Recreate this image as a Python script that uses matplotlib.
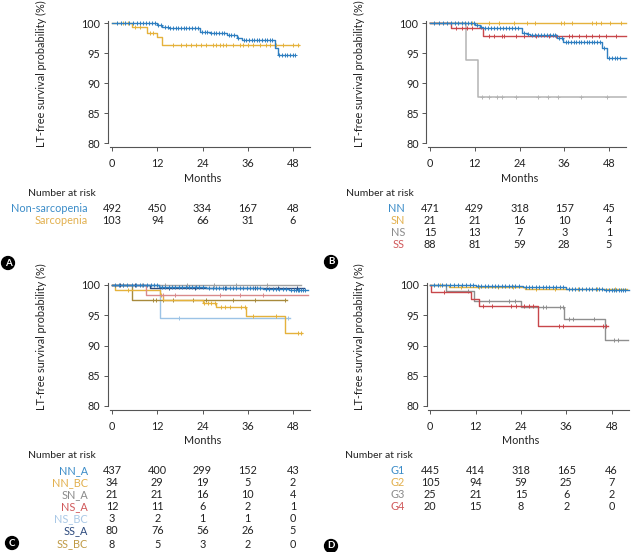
import numpy as np
import matplotlib
matplotlib.use('Agg')
import matplotlib.pyplot as plt
from matplotlib.transforms import blended_transform_factory

plt.rcParams['font.family'] = ['Lato', 'DejaVu Sans']

W, H = 632, 552

BLUE = '#2f7fc1'
ORANGE = '#e5b23c'
GRAY = '#a0a0a0'
RED = '#c8474b'
LIGHTBLUE = '#9cc3e6'
DARKBLUE = '#2d4a7d'
OLIVE = '#a88a3c'

months = [0, 12, 24, 36, 48]

# ---- panel A
a_non_t = [0, 11.9, 13.2, 14.9, 23.3, 26.0, 30.4, 33.1, 34.5, 43.2, 44.0]
a_non_s = [100, 99.7, 99.3, 99.1, 98.55, 98.3, 98.0, 97.5, 97.1, 95.8, 94.6]
a_non_end = 48.4
a_non_cens = [1.3, 2.4, 3.5, 4.6, 5.6, 6.5, 7.4, 8.3, 9.1, 9.9, 10.7, 11.4, 12.2, 13.0,
              14.1, 14.8, 15.5, 16.2, 16.9, 17.6, 18.3, 19.0, 19.7, 20.5, 21.3, 22.1,
              22.8, 23.9, 24.6, 25.3, 26.3, 27.0, 27.7, 28.4, 29.1, 29.8, 30.9, 31.6,
              32.4, 33.5, 34.9, 35.6, 36.3, 37.0, 37.7, 38.4, 39.1, 39.8, 40.5, 41.2,
              41.9, 42.4, 44.4, 45.1, 45.8, 46.5, 47.2, 47.9, 48.4]
a_sar_t = [0, 5.3, 9.2, 11.9, 13.2]
a_sar_s = [100, 99.3, 98.3, 97.7, 96.3]
a_sar_end = 49.5
a_sar_cens = [2.9, 4.2, 6.0, 7.3, 10.0, 10.9, 16.2, 18.4, 19.7, 21.0, 22.4, 23.7, 25.0,
              26.8, 27.7, 28.6, 29.4, 30.3, 32.1, 33.9, 34.7, 36.1, 37.4, 39.2, 40.9,
              41.8, 43.6, 45.4, 48.0, 49.3]
a_labels = ['Non-sarcopenia', 'Sarcopenia']
a_risk = [[492, 450, 334, 167, 48], [103, 94, 66, 31, 6]]

# ---- panel B
b_nn_t = [0, 12.1, 13.4, 14.2, 24.7, 26.0, 26.8, 34.0, 35.7, 46.1, 47.5]
b_nn_s = [100, 99.7, 99.3, 99.1, 98.4, 98.15, 98.0, 97.5, 96.9, 95.8, 94.2]
b_nn_end = 52.5
b_nn_cens = [1.2, 2.3, 3.4, 4.5, 5.6, 6.6, 7.6, 8.5, 9.4, 10.3, 11.1, 11.8, 12.7, 13.8,
             14.8, 15.6, 16.4, 17.2, 18.0, 18.8, 19.6, 20.4, 21.2, 22.0, 22.8, 23.6,
             25.3, 26.4, 27.4, 28.2, 29.0, 29.8, 30.6, 31.4, 32.2, 33.0, 33.6, 34.6,
             35.3, 36.4, 37.1, 37.8, 38.5, 39.2, 39.9, 40.6, 41.3, 42.0, 42.7, 43.4,
             44.1, 44.8, 45.5, 46.7, 48.1, 48.8, 49.5, 50.2, 51.0]
b_sn_t = [0]
b_sn_s = [100]
b_sn_end = 52.5
b_sn_cens = [11.3, 15.8, 18.5, 22.5, 26.1, 28.2, 35.0, 35.9, 38.2, 43.5, 44.4, 45.8, 48.4, 51.1]
b_ns_t = [0, 9.6, 12.9]
b_ns_s = [100, 93.9, 87.7]
b_ns_end = 52.5
b_ns_cens = [14.0, 15.8, 18.1, 19.4, 23.0, 29.0, 31.7, 34.3, 40.4, 47.5]
b_ss_t = [0, 5.7, 14.2]
b_ss_s = [100, 99.2, 97.9]
b_ss_end = 52.5
b_ss_cens = [6.9, 8.7, 10.0, 11.3, 15.8, 17.2, 19.4, 19.8, 23.0, 25.2, 28.3, 31.9, 33.7,
             37.3, 38.2, 39.9, 41.7, 43.5, 45.3, 47.1, 49.8]
b_labels = ['NN', 'SN', 'NS', 'SS']
b_risk = [[471, 429, 318, 157, 45], [21, 21, 16, 10, 4], [15, 13, 7, 3, 1], [88, 81, 59, 28, 5]]

# ---- panel C
c_nna_t = [0, 12.5, 25.0, 40.0, 47.0]
c_nna_s = [100, 99.75, 99.55, 99.35, 99.1]
c_nna_end = 52.0
c_nna_cens = [0.8, 1.9, 3.0, 4.1, 5.2, 6.3, 7.3, 8.3, 9.3, 10.3, 11.2, 12.0, 13.2, 14.1,
              15.0, 15.9, 16.8, 17.7, 18.6, 19.5, 20.4, 21.3, 22.2, 23.1, 24.0, 25.8,
              26.7, 27.6, 28.5, 29.4, 30.3, 31.2, 32.1, 33.0, 33.9, 34.8, 35.7, 36.6,
              37.5, 38.4, 39.3, 40.8, 41.7, 42.6, 43.5, 44.4, 45.3, 46.2, 47.6, 48.2,
              48.7, 49.2, 49.7, 50.2, 50.7, 51.2]
c_nnbc_t = [0, 0.8, 12.7, 13.6, 24.2, 27.6, 35.6, 45.8]
c_nnbc_s = [100, 99.1, 98.3, 97.6, 97.1, 96.3, 94.8, 92.1]
c_nnbc_end = 50.5
c_nnbc_cens = [4.2, 13.1, 24.5, 25.4, 26.3, 27.2, 29.0, 29.9, 31.2, 34.3, 35.2, 37.4,
               43.6, 49.3, 50.2]
c_sna_t = [0]
c_sna_s = [100]
c_sna_end = 50.0
c_sna_cens = [3.0, 8.0, 14.0, 20.0, 27.0, 33.0, 41.0]
c_nsa_t = [0, 9.1]
c_nsa_s = [100, 98.4]
c_nsa_end = 52.0
c_nsa_cens = [13.5, 16.6, 28.6, 33.9, 40.1]
c_nsbc_t = [0, 12.6]
c_nsbc_s = [100, 94.5]
c_nsbc_end = 47.1
c_nsbc_cens = [17.9, 46.7]
c_ssa_t = [0, 10.0]
c_ssa_s = [100, 99.5]
c_ssa_end = 51.0
c_ssa_cens = [2.0, 6.0, 15.0, 22.0, 30.0, 38.0, 44.0, 49.0]
c_ssbc_t = [0, 5.4]
c_ssbc_s = [100, 97.6]
c_ssbc_end = 46.5
c_ssbc_cens = [10.9, 11.8, 13.5, 16.2, 21.5, 25.0, 32.1, 37.8, 45.8]
c_labels = ['NN_A', 'NN_BC', 'SN_A', 'NS_A', 'NS_BC', 'SS_A', 'SS_BC']
c_risk = [[437, 400, 299, 152, 43], [34, 29, 19, 5, 2], [21, 21, 16, 10, 4],
          [12, 11, 6, 2, 1], [3, 2, 1, 1, 0], [80, 76, 56, 26, 5], [8, 5, 3, 2, 0]]

# ---- panel D
d_g1_t = [0, 12.0, 24.5, 36.0, 46.0]
d_g1_s = [100, 99.8, 99.6, 99.4, 99.15]
d_g1_end = 52.5
d_g1_cens = [0.9, 2.0, 3.1, 4.2, 5.3, 6.4, 7.4, 8.4, 9.4, 10.4, 11.3, 12.6, 13.5, 14.4,
             15.3, 16.2, 17.1, 18.0, 18.9, 19.8, 20.7, 21.6, 22.5, 23.4, 25.2, 26.1,
             27.0, 27.9, 28.8, 29.7, 30.6, 31.5, 32.4, 33.3, 34.2, 35.1, 36.6, 37.5,
             38.4, 39.3, 40.2, 41.1, 42.0, 42.9, 43.8, 44.7, 45.5, 46.6, 47.4, 48.0,
             48.6, 49.2, 49.8, 50.4, 51.0, 51.6]
d_g2_t = [0, 5.0, 25.0]
d_g2_s = [100, 99.6, 99.3]
d_g2_end = 52.0
d_g2_cens = [2.5, 8.0, 13.0, 18.0, 22.0, 28.0, 33.0, 39.0, 44.0, 49.0]
d_g3_t = [0, 4.1, 11.6, 24.0, 35.5, 46.1]
d_g3_s = [100, 99.0, 97.3, 96.4, 94.4, 90.9]
d_g3_end = 52.3
d_g3_cens = [9.9, 13.0, 15.6, 20.7, 22.5, 29.7, 30.6, 34.2, 35.0, 36.8, 37.7, 43.4, 48.7, 49.6]
d_g4_t = [0, 0.2, 10.8, 12.8, 28.4]
d_g4_s = [100, 98.8, 97.7, 96.5, 93.2]
d_g4_end = 47.0
d_g4_cens = [3.7, 13.9, 16.2, 21.4, 22.7, 24.9, 26.2, 27.1, 34.0, 35.0, 45.6, 46.5]
d_labels = ['G1', 'G2', 'G3', 'G4']
d_risk = [[445, 414, 318, 165, 46], [105, 94, 59, 25, 7], [25, 21, 15, 6, 2], [20, 15, 8, 2, 0]]


fig = plt.figure(figsize=(W / 100, H / 100), dpi=100)


def make_axes(x0, x48, y100, y80, xlim=(-1.0, 52.5), ylim=(79.3, 100.8)):
    pxm = (x48 - x0) / 48.0
    pxp = (y80 - y100) / 20.0
    left = x0 + xlim[0] * pxm
    right = x0 + xlim[1] * pxm
    top = y100 - (ylim[1] - 100) * pxp
    bottom = y80 + (80 - ylim[0]) * pxp
    ax = fig.add_axes([left / W, 1 - bottom / H, (right - left) / W, (bottom - top) / H])
    ax.set_xlim(*xlim)
    ax.set_ylim(*ylim)
    for s in ['top', 'right']:
        ax.spines[s].set_visible(False)
    for s in ['left', 'bottom']:
        ax.spines[s].set_linewidth(0.8)
        ax.spines[s].set_color('#555555')
    ax.spines['left'].set_bounds(80, 100.3)
    ax.spines['bottom'].set_bounds(-0.5, xlim[1])
    ax.set_xticks(months)
    ax.set_yticks([80, 85, 90, 95, 100])
    ax.tick_params(axis='both', direction='out', length=3, width=0.7, color='#555555',
                   labelsize=7.8, labelcolor='#222222')
    ax.tick_params(axis='x', pad=5)
    ax.tick_params(axis='y', pad=2.5)
    ax.set_ylabel('LT-free survival probability (%)', fontsize=7.8, color='#222222')
    ax.yaxis.set_label_coords((x0 - 65) / W, 1 - ((y100 + y80) / 2 - 9) / H,
                              transform=fig.transFigure)
    fig.text((x0 + x48) / 2 / W, 1 - (y80 + 35) / H, 'Months', ha='center', va='center',
             fontsize=7.8, color='#222222')
    return ax


def km(ax, t, s, end, cens, color, lw=1.0, z=2):
    tt = list(t) + [end]
    ss = list(s) + [s[-1]]
    ax.step(tt, ss, where='post', color=color, lw=lw, zorder=z, clip_on=False)
    idx = np.searchsorted(np.array(t), np.array(cens), side='right') - 1
    cs = np.array(s)[idx]
    ax.plot(cens, cs, ls='none', marker='+', ms=3.5, mew=0.7, color=color, zorder=z,
            clip_on=False)


def risk_table(ax, y_head, y_rows, x_head, x_lab, labels, colors, risk):
    fig.text(x_head / W, 1 - y_head / H, 'Number at risk', ha='left', va='center',
             fontsize=7.5, color='#222222')
    tr = blended_transform_factory(ax.transData, fig.transFigure)
    for lab, col, row, y in zip(labels, colors, risk, y_rows):
        fig.text(x_lab / W, 1 - y / H, lab, ha='right', va='center', fontsize=7.8, color=col)
        for m, n in zip(months, row):
            ax.text(m, 1 - y / H, str(n), transform=tr, ha='center', va='center',
                    fontsize=7.8, color='#222222', clip_on=False)


def panel_letter(x, y, letter):
    fig.text(x / W, 1 - y / H, letter, ha='center', va='center', fontsize=7,
             color='white', fontweight='bold',
             bbox=dict(boxstyle='circle,pad=0.2', fc='black', ec='black'))


# A
axA = make_axes(112, 293, 23, 143)
km(axA, a_sar_t, a_sar_s, a_sar_end, a_sar_cens, ORANGE)
km(axA, a_non_t, a_non_s, a_non_end, a_non_cens, BLUE, z=3)
risk_table(axA, 193, [208, 220], 28, 88, a_labels, ['#3b8cc8', '#e2b04e'], a_risk)
panel_letter(8, 263, 'A')

# B
axB = make_axes(430, 609, 23, 143)
km(axB, b_ns_t, b_ns_s, b_ns_end, b_ns_cens, '#b4b4b4', lw=1.1)
km(axB, b_sn_t, b_sn_s, b_sn_end, b_sn_cens, ORANGE)
km(axB, b_ss_t, b_ss_s, b_ss_end, b_ss_cens, RED)
km(axB, b_nn_t, b_nn_s, b_nn_end, b_nn_cens, BLUE, z=3)
risk_table(axB, 193, [208, 220, 232, 244], 346, 405, b_labels,
           ['#3b8cc8', '#e2b04e', '#8a8a8a', '#d0585a'], b_risk)
panel_letter(331, 262, 'B')

# C
axC = make_axes(112, 293, 285, 406)
km(axC, c_nsbc_t, c_nsbc_s, c_nsbc_end, c_nsbc_cens, LIGHTBLUE)
km(axC, c_ssbc_t, c_ssbc_s, c_ssbc_end, c_ssbc_cens, OLIVE)
km(axC, c_nnbc_t, c_nnbc_s, c_nnbc_end, c_nnbc_cens, ORANGE)
km(axC, c_nsa_t, c_nsa_s, c_nsa_end, c_nsa_cens, '#d98a8c')
km(axC, c_sna_t, c_sna_s, c_sna_end, c_sna_cens, GRAY)
km(axC, c_ssa_t, c_ssa_s, c_ssa_end, c_ssa_cens, DARKBLUE)
km(axC, c_nna_t, c_nna_s, c_nna_end, c_nna_cens, BLUE, z=3)
risk_table(axC, 456, [471, 483, 495, 507, 519, 531, 544], 28, 88, c_labels,
           ['#3b8cc8', '#e2b04e', '#8a8a8a', '#d0585a', '#a9c8e6', '#2d4a7d', '#c09a45'],
           c_risk)
panel_letter(12, 543, 'C')

# D
axD = make_axes(430.3, 611.7, 285, 406)
km(axD, d_g3_t, d_g3_s, d_g3_end, d_g3_cens, '#8f8f8f')
km(axD, d_g4_t, d_g4_s, d_g4_end, d_g4_cens, RED)
km(axD, d_g2_t, d_g2_s, d_g2_end, d_g2_cens, ORANGE)
km(axD, d_g1_t, d_g1_s, d_g1_end, d_g1_cens, BLUE, z=3)
risk_table(axD, 456, [471, 483, 495, 507], 345, 405, d_labels,
           ['#3b8cc8', '#e2b04e', '#8a8a8a', '#d0585a'], d_risk)
panel_letter(331, 546, 'D')

fig.savefig('out.png', dpi=100)
